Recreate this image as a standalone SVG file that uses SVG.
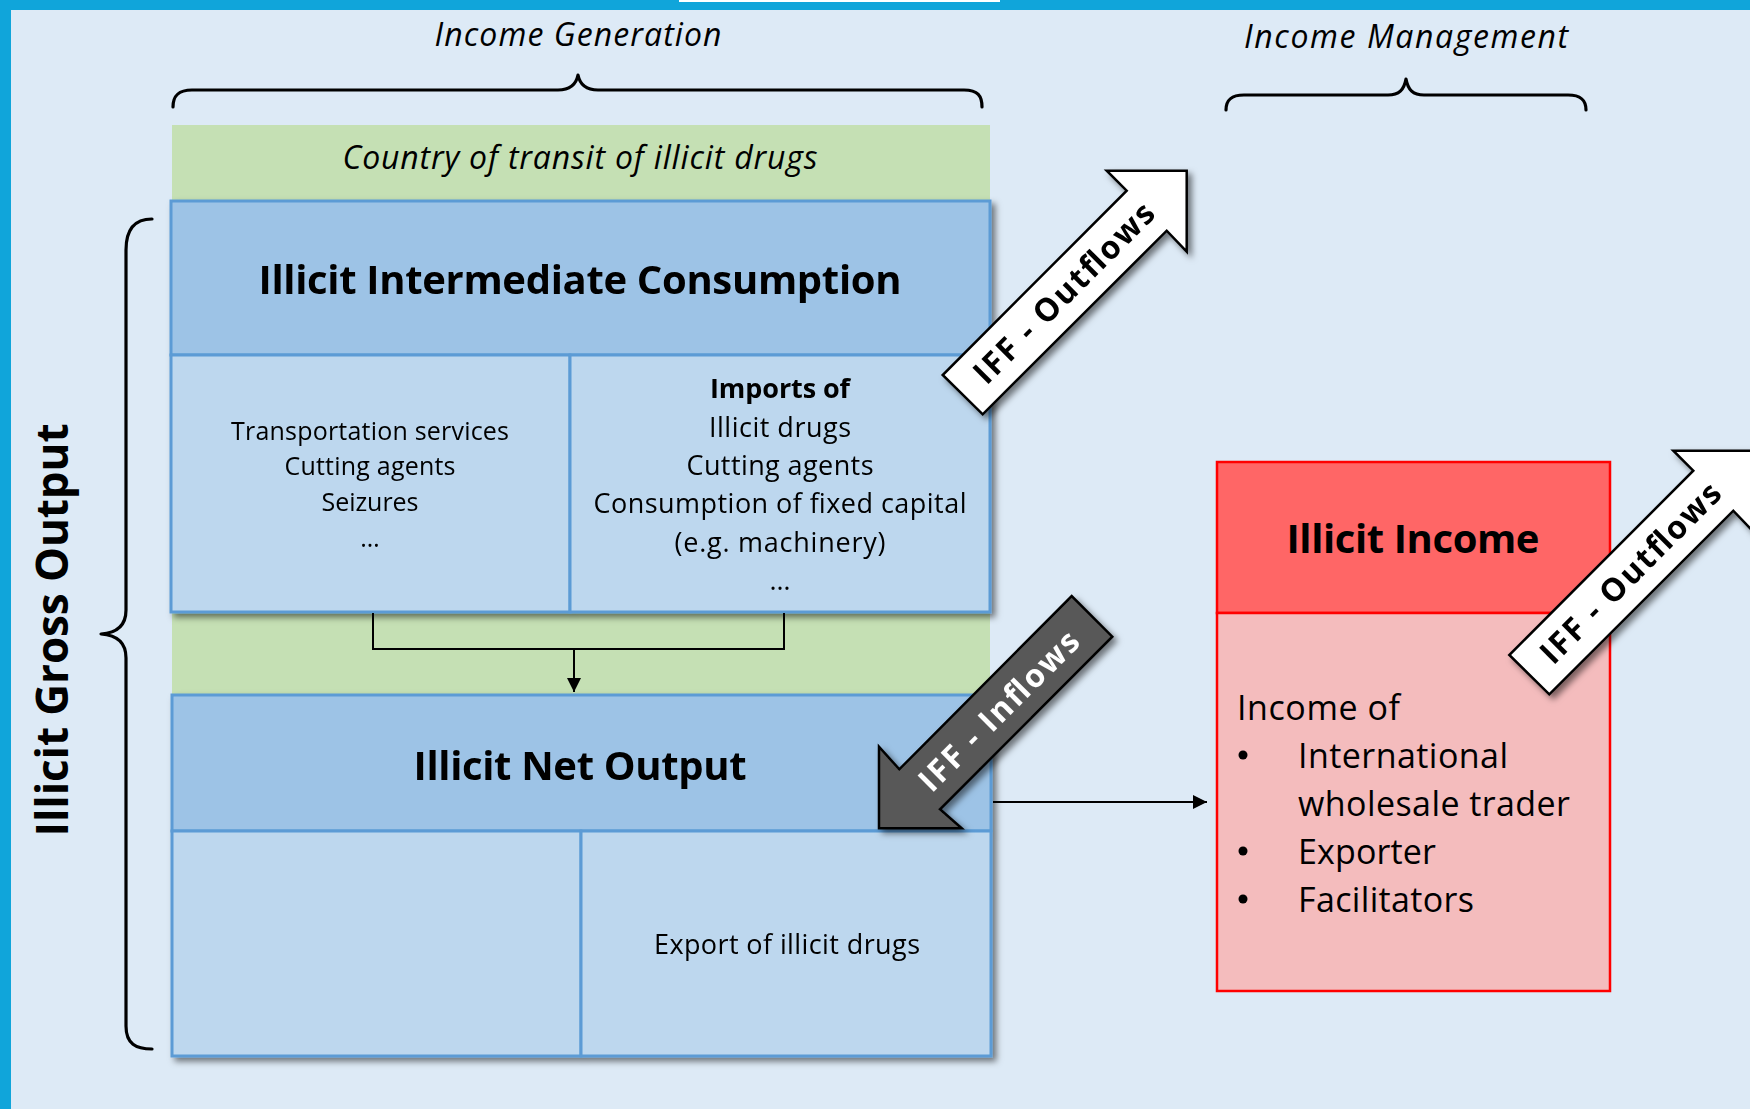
<svg xmlns="http://www.w3.org/2000/svg" width="1750" height="1109" viewBox="0 0 1750 1109">
<defs>
<style>
.t{font-family:"Open Sans","Liberation Sans",sans-serif;fill:#000}
.it{font-style:italic}
.b{font-weight:bold}
.hdr{fill:#9DC3E6;stroke:#5B9BD5;stroke-width:3}
.cell{fill:#BDD7EE;stroke:#5B9BD5;stroke-width:3}
.brace{fill:none;stroke:#000;stroke-width:3.2;stroke-linecap:round;stroke-linejoin:round}
.con{fill:none;stroke:#000;stroke-width:2}
.arrW{fill:#fff;stroke:#000;stroke-width:2.5;stroke-linejoin:miter}
.arrD{fill:#595959;stroke:#000;stroke-width:2.5;stroke-linejoin:miter}
</style>
<filter id="sh" x="-10%" y="-10%" width="130%" height="130%">
<feDropShadow dx="4" dy="4" stdDeviation="3" flood-color="#000" flood-opacity="0.5"/>
</filter>
<marker id="ah" viewBox="0 0 10 10" refX="10" refY="5" markerWidth="14" markerHeight="14" markerUnits="userSpaceOnUse" orient="auto">
<path d="M0,0 L10,5 L0,10 Z" fill="#000"/>
</marker>
</defs>

<g id="frame">
<rect x="0" y="0" width="1750" height="1109" fill="#DDEAF6"/>
<rect x="0" y="0" width="1750" height="10" fill="#10A5DA"/>
<rect x="0" y="0" width="11" height="1109" fill="#10A5DA"/>
<rect x="679" y="0" width="321" height="2" fill="#fff"/>
</g>

<g id="income-generation-label">
<text class="t it" x="578" y="46" font-size="32" text-anchor="middle" textLength="287">Income Generation</text>
<path class="brace" d="M173,107 C173,96 178,90 192,90 L558,90 C570,90 576,85 578,75 C580,85 586,90 598,90 L964,90 C978,90 982,96 982,107"/>
</g>

<g id="income-management-label">
<text class="t it" x="1406" y="48" font-size="32" text-anchor="middle" textLength="324">Income Management</text>
<path class="brace" d="M1226,110 C1226,100 1231,95 1244,95 L1388,95 C1399,95 1404,90 1406,79 C1408,90 1413,95 1424,95 L1568,95 C1581,95 1586,100 1586,110"/>
</g>

<g id="gross-output-label">
<path class="brace" d="M152,219 C136,219 126,228 126,250 L126,610 C126,626 116,633 101,634 C116,635 126,642 126,658 L126,1026 C126,1044 136,1049 152,1049"/>
<text class="t b" transform="translate(68,630) rotate(-90)" x="0" y="0" font-size="44" text-anchor="middle" textLength="413">Illicit Gross Output</text>
</g>

<g id="transit-country">
<rect x="172" y="125" width="818" height="570" fill="#C5E0B4"/>
<text class="t it" x="580" y="169" font-size="32" text-anchor="middle" textLength="475">Country of transit of illicit drugs</text>
</g>

<g id="intermediate-consumption" filter="url(#sh)">
<rect class="hdr" x="171" y="201" width="819" height="154"/>
<rect class="cell" x="171" y="355" width="399" height="257"/>
<rect class="cell" x="570" y="355" width="420" height="257"/>
<text class="t b" x="580" y="294" font-size="40" text-anchor="middle" textLength="643">Illicit Intermediate Consumption</text>
<g class="t" font-size="25" text-anchor="middle">
<text x="370" y="440" textLength="278">Transportation services</text>
<text x="370" y="475" textLength="171">Cutting agents</text>
<text x="370" y="511" textLength="97">Seizures</text>
<text x="370" y="547">…</text>
</g>
<g class="t" font-size="27" text-anchor="middle">
<text x="780" y="398" class="t b" textLength="140">Imports of</text>
<text x="780" y="437" textLength="142">Illicit drugs</text>
<text x="780" y="475" textLength="187">Cutting agents</text>
<text x="780" y="513" textLength="373">Consumption of fixed capital</text>
<text x="780" y="552" textLength="211">(e.g. machinery)</text>
<text x="780" y="590">…</text>
</g>
</g>

<g id="net-output" filter="url(#sh)">
<rect class="hdr" x="172" y="695" width="819" height="136"/>
<rect class="cell" x="172" y="831" width="409" height="225"/>
<rect class="cell" x="581" y="831" width="410" height="225"/>
<text class="t b" x="580" y="780" font-size="40" text-anchor="middle" textLength="333">Illicit Net Output</text>
<text class="t" x="787" y="954" font-size="27" text-anchor="middle" textLength="266">Export of illicit drugs</text>
</g>

<g id="illicit-income">
<rect x="1217" y="462" width="393" height="151" fill="#FF6666" stroke="#FF0000" stroke-width="2.5"/>
<rect x="1217" y="613" width="393" height="378" fill="#F4BCBD" stroke="#FF0000" stroke-width="2.5"/>
<text class="t b" x="1413" y="553" font-size="40" text-anchor="middle" textLength="253">Illicit Income</text>
<g class="t" font-size="34">
<text x="1237" y="720" textLength="163">Income of</text>
<circle cx="1243" cy="755" r="4.5" fill="#000"/>
<text x="1298" y="768" textLength="210">International</text>
<text x="1298" y="816" textLength="272">wholesale trader</text>
<circle cx="1243" cy="851" r="4.5" fill="#000"/>
<text x="1298" y="864" textLength="138">Exporter</text>
<circle cx="1243" cy="899" r="4.5" fill="#000"/>
<text x="1298" y="912" textLength="176">Facilitators</text>
</g>
</g>

<g id="connectors">
<path class="con" d="M373,613 L373,649 L784,649 L784,613"/>
<line class="con" x1="574" y1="649" x2="574" y2="692" marker-end="url(#ah)"/>
<line class="con" x1="993" y1="802" x2="1207" y2="802" marker-end="url(#ah)"/>
</g>

<g id="iff-outflows-1" filter="url(#sh)">
<polygon class="arrW" points="1186.7,170.7 1186.7,251.7 1166.7,230.7 982.7,414.3 942.7,375 1126.7,190.7 1106.7,170.7"/>
<text class="t b" transform="translate(1064,293) rotate(-45)" x="0" y="11" font-size="32" text-anchor="middle" textLength="241">IFF - Outflows</text>
</g>

<g id="iff-outflows-2" filter="url(#sh)">
<polygon class="arrW" points="1753.3,450.7 1753.3,531.7 1733.3,510.7 1549.3,694.3 1509.3,655 1693.3,470.7 1673.3,450.7"/>
<text class="t b" transform="translate(1630.6,573) rotate(-45)" x="0" y="11" font-size="32" text-anchor="middle" textLength="241">IFF - Outflows</text>
</g>

<g id="iff-inflows" filter="url(#sh)">
<polygon class="arrD" points="879,828.3 879,746.7 899.3,769.3 1071.7,596 1112.3,636.7 940,809.3 961.7,828.3"/>
<text class="t b" transform="translate(999,711) rotate(-45)" x="0" y="11" font-size="32" style="fill:#fff" text-anchor="middle" textLength="212">IFF - Inflows</text>
</g>
</svg>
